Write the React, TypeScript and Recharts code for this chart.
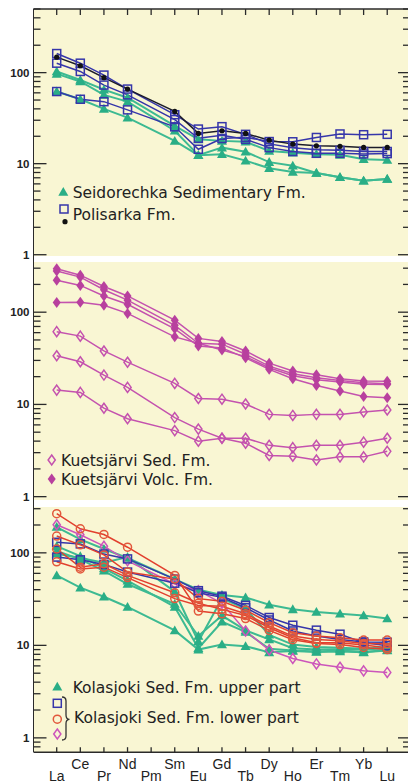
import React from "react";
import { Line, LineChart, XAxis, YAxis } from "recharts";

// chondrite-normalised REE
const ELEMENTS = ["La", "Ce", "Pr", "Nd", "Pm", "Sm", "Eu", "Gd", "Tb", "Dy", "Ho", "Er", "Tm", "Yb", "Lu"];
const X_TICKS = [0, 1, 2, 3, 4, 5, 6, 7, 8, 9, 10, 11, 12, 13, 14];
const Y_TICKS = [1, 2, 3, 4, 5, 6, 7, 8, 9, 10, 20, 30, 40, 50, 60, 70, 80, 90, 100, 200, 300, 400, 500];
const Y_TICKS_LOW = [0.8, 0.9];
const Y_LABELS = [1, 10, 100];

// panel 1
const SEIDORECHKA_A = [103, 83, 65, 53, null, 26, 18.5, 17.8, 17.4, 13.8, 13.2, 12.7, 12.5, 11.2, 11];
const SEIDORECHKA_B = [97, 80, 57, 48, null, 23, 12.4, 15, 13.5, 10.4, 9.5, 7.9, 7.1, 6.5, 6.8];
const SEIDORECHKA_C = [62, 51, 40, 32, null, 17.8, 12.4, 12.7, 10.8, 8.9, 8.1, 7.9, 7.1, 6.5, 6.8];
const POLISARKA_A = [162, 127, 94, 66, null, 34.5, 24, 25.5, 21, 16.5, 15, 14.2, 14, 13.6, 13.6];
const POLISARKA_B = [127, 103, 73, 57, null, 30.5, 19, 20.5, 18.5, 15, 13.6, 13, 13, 12.8, 12.9];
const POLISARKA_C = [62, 51, 48, 39, null, 25.4, 14.4, 18.9, 19.5, 17.5, 17.4, 19.4, 21.2, 20.8, 21];
const POLISARKA_BLACK = [148, 119, 88, 66, null, 37.5, 21.5, 23, 21.5, 18.1, 16.4, 15.7, 15.5, 15.1, 15.1];

// panel 2
const KUETS_VOLC_A = [295, 252, 190, 150, null, 82, 52, 48, 38, 28, 23, 21, 19, 18, 17.8];
const KUETS_VOLC_B = [280, 240, 175, 135, null, 72, 46, 45, 35, 26, 21.5, 19.5, 18.2, 17.2, 16.8];
const KUETS_VOLC_C = [222, 195, 150, 122, null, 66, 43, 41, 32, 24, 19, 16, 14, 12.2, 11.8];
const KUETS_VOLC_D = [127, 128, 119, 97, null, 54, 46, 39, 33, 25, 20.5, 18.5, 17.5, 16.5, 16.4];
const KUETS_SED_A = [61.5, 55, 38, 28.7, null, 16.9, 11.6, 11.4, 10.1, 7.8, 7.6, 7.8, 7.8, 8.3, 8.7];
const KUETS_SED_B = [33.7, 29, 20.8, 15.3, null, 7.2, 5.4, 4.3, 4.3, 3.6, 3.4, 3.6, 3.6, 3.9, 4.3];
const KUETS_SED_C = [14.3, 13.5, 9.1, 7.0, null, 5.2, 4.0, 4.3, 3.8, 2.8, 2.75, 2.5, 2.7, 2.7, 3.1];

// panel 3
const KOLA_UP_A = [57, 42, 33.5, 26, null, 14.5, 9, 10.2, 9.8, 8.4, 8.7, 8.5, 8.6, 8.4, 8.8];
const KOLA_UP_B = [190, 140, 110, 88, null, 52, 40, 35, 33, 27.5, 24.5, 23, 22, 21, 19.5];
const KOLA_UP_C = [118, 92, 68, 50, null, 26, 9.3, 18, 14, 9.2, 8.8, 8.6, 8.8, 8.5, 8.9];
const KOLA_UP_D = [105, 85, 64, 46, null, 28, 12.6, 21, 14.5, 11.6, 9.3, 9, 9.1, 9, 9.3];
const KOLA_UP_E = [98, 88, 78, 90, null, 38, 11, 32, 25, 13, 10.2, 9.6, 9.4, 9.2, 9.6];
const KOLA_LOW_SQ_A = [130, 125, 97, 86, null, 52, 39, 34, 27, 20, 16.5, 14.6, 13.2, 10.7, 9.9];
const KOLA_LOW_SQ_B = [90, 84, 75, 62, null, 47, 37, 33, 25.5, 18.8, 14.3, 12.6, 11.6, 10.9, 10.8];
const KOLA_LOW_CI_A = [265, 182, 158, 115, null, 57, 23.5, 22, 19.5, 14.5, 11.5, 10.5, 10.2, 9.5, 9];
const KOLA_LOW_CI_B = [152, 122, 95, 62, null, 52, 32, 30, 24, 17.6, 13.7, 12.6, 12.1, 11.4, 11.4];
const KOLA_LOW_CI_C = [110, 70, 76, 57, null, 37, 28.5, 24.5, 21, 15.5, 12.1, 10.7, 10.7, 10.1, 9.4];
const KOLA_LOW_CI_D = [80, 67, 70, 54, null, 32, 27, 26.5, 22, 16.2, 12.6, 11.6, 11.2, 10.5, 10.4];
const KOLA_LOW_DI = [201, 157, 118, 82, null, 46, 39, 28.5, 14.3, 8.9, 7.2, 6.3, 5.8, 5.3, 5.1];

const BG = "#f9f6d3";
const AXIS = "#2a2a2a";
const TEAL = "#2aae86";
const TEAL_LINE = "#3dba92";
const BLUE = "#3636aa";
const BLACK = "#111111";
const MAGENTA = "#b8409e";
const MAGENTA_LINE = "#c452ae";
const RED = "#e2583c";
const RED_LINE = "#e2402e";
const PINK = "#cc55bb";

const PLOT_LEFT = 33.5;
const PLOT_W = 374.5;
const X_DOMAIN = [-0.983, 14.88];

type Shape = "tri" | "sq" | "dot" | "dia" | "diaF" | "ci";

function Marker({ shape, cx, cy, color }: { shape: Shape; cx: number; cy: number; color: string }) {
  switch (shape) {
    case "tri":
      return <polygon points={`${cx},${cy - 5} ${cx - 5},${cy + 3.8} ${cx + 5},${cy + 3.8}`} fill={color} />;
    case "sq":
      return <rect x={cx - 4} y={cy - 4} width={8} height={8} fill="none" stroke={color} strokeWidth={1.5} />;
    case "dot":
      return <circle cx={cx} cy={cy} r={2.6} fill={color} />;
    case "dia":
      return <polygon points={`${cx},${cy - 5} ${cx + 3.6},${cy} ${cx},${cy + 5} ${cx - 3.6},${cy}`} fill="none" stroke={color} strokeWidth={1.5} />;
    case "diaF":
      return <polygon points={`${cx},${cy - 5.5} ${cx + 4},${cy} ${cx},${cy + 5.5} ${cx - 4},${cy}`} fill={color} />;
    default:
      return <circle cx={cx} cy={cy} r={4} fill="none" stroke={color} strokeWidth={1.5} />;
  }
}

interface Series {
  key: string;
  values: (number | null)[];
  shape: Shape;
  color: string;
  line: string;
  width: number;
}

function buildRows(series: Series[]) {
  return ELEMENTS.map((_, i) => {
    const row: Record<string, number | null> = { x: i };
    series.forEach((s) => (row[s.key] = s.values[i]));
    return row;
  });
}

function makeDot(shape: Shape, color: string) {
  return (p: any) => {
    if (p.cx == null || p.cy == null || p.value == null) return <g key={`e${p.index}`} />;
    return (
      <g key={`d${p.index}`}>
        <Marker shape={shape} cx={p.cx} cy={p.cy} color={color} />
      </g>
    );
  };
}

function YTick(props: any) {
  const { x, y, payload } = props;
  const v = payload.value;
  const major = Y_LABELS.includes(v);
  return (
    <g>
      <line x1={x} x2={x + (major ? 13 : 7)} y1={y} y2={y} stroke={AXIS} strokeWidth={1.3} />
      <line x1={x + PLOT_W - (major ? 10 : 5)} x2={x + PLOT_W} y1={y} y2={y} stroke={AXIS} strokeWidth={1.3} />
      {major && (
        <text x={x - 4} y={y + 4} textAnchor="end" fontSize={11.5} fontWeight="bold" fontFamily="'Liberation Sans', Arial, sans-serif" fill="#222">
          {v}
        </text>
      )}
    </g>
  );
}

function TopTick(props: any) {
  const { x, y } = props;
  return <line x1={x} x2={x} y1={y} y2={y + 6} stroke={AXIS} strokeWidth={1.3} />;
}

function BottomTick(props: any) {
  const { x, y, payload } = props;
  const i = payload.value as number;
  return (
    <g>
      <line x1={x} x2={x} y1={y} y2={y - 5} stroke={AXIS} strokeWidth={1.3} />
      <text x={x} y={y + (i % 2 === 0 ? 28.5 : 16.5)} textAnchor="middle" fontSize={14} fontFamily="'Liberation Sans', Arial, sans-serif" fill="#222">
        {ELEMENTS[i]}
      </text>
    </g>
  );
}

interface PanelProps {
  top: number;
  plotHeight: number;
  domain: [number, number];
  series: Series[];
  xMode: "top" | "none" | "bottom";
}

function Panel({ top, plotHeight, domain, series, xMode }: PanelProps) {
  const rows = buildRows(series);
  const xHeight = xMode === "top" ? 1 : xMode === "bottom" ? 30.3 : 0;
  // room under the plot so the "1" label is not clipped
  const padBottom = xMode === "bottom" ? 0 : 6;
  const chartTop = xMode === "top" ? top - 1 : top;
  const ticks = [...Y_TICKS_LOW, ...Y_TICKS].filter((t) => t >= domain[0] && t <= domain[1]);
  const h = plotHeight + xHeight + padBottom;
  return (
    <div style={{ position: "absolute", left: 0, top: chartTop, width: 408, height: h }}>
      <div style={{ position: "absolute", left: PLOT_LEFT, top: xMode === "top" ? 1 : 0, width: PLOT_W, height: plotHeight, background: BG }} />
      <LineChart
        width={408}
        height={h}
        data={rows}
        margin={{ top: 0, right: 0, bottom: padBottom, left: 0 }}
        style={{ position: "absolute", left: 0, top: 0 }}
      >
        <XAxis
          type="number"
          dataKey="x"
          domain={X_DOMAIN}
          allowDataOverflow
          ticks={X_TICKS}
          interval={0}
          hide={xMode === "none"}
          orientation={xMode === "top" ? "top" : "bottom"}
          height={xMode === "none" ? 0 : xHeight}
          axisLine={{ stroke: AXIS, strokeWidth: 1.5 }}
          tickLine={false}
          tickSize={0}
          tickMargin={0}
          tick={xMode === "top" ? <TopTick /> : <BottomTick />}
        />
        <YAxis
          type="number"
          scale="log"
          domain={domain}
          allowDataOverflow
          ticks={ticks}
          interval={0}
          width={PLOT_LEFT}
          axisLine={false}
          tickLine={false}
          tickSize={0}
          tickMargin={0}
          tick={<YTick />}
        />
        {series.map((s) => (
          <Line
            key={s.key}
            dataKey={s.key}
            stroke={s.line}
            strokeWidth={s.width}
            connectNulls
            dot={makeDot(s.shape, s.color)}
            activeDot={false}
            isAnimationActive={false}
          />
        ))}
      </LineChart>
    </div>
  );
}

const tealSeries = (key: string, values: (number | null)[]): Series => ({ key, values, shape: "tri", color: TEAL, line: TEAL_LINE, width: 2 });

const PANEL1: Series[] = [
  tealSeries("sA", SEIDORECHKA_A),
  tealSeries("sB", SEIDORECHKA_B),
  tealSeries("sC", SEIDORECHKA_C),
  { key: "pC", values: POLISARKA_C, shape: "sq", color: BLUE, line: BLUE, width: 1.5 },
  { key: "pB", values: POLISARKA_B, shape: "sq", color: BLUE, line: BLUE, width: 1.5 },
  { key: "pA", values: POLISARKA_A, shape: "sq", color: BLUE, line: BLUE, width: 1.5 },
  { key: "pK", values: POLISARKA_BLACK, shape: "dot", color: BLACK, line: "#1c1c2a", width: 1.5 },
];

const PANEL2: Series[] = [
  { key: "kSA", values: KUETS_SED_A, shape: "dia", color: MAGENTA_LINE, line: MAGENTA_LINE, width: 1.5 },
  { key: "kSB", values: KUETS_SED_B, shape: "dia", color: MAGENTA_LINE, line: MAGENTA_LINE, width: 1.5 },
  { key: "kSC", values: KUETS_SED_C, shape: "dia", color: MAGENTA_LINE, line: MAGENTA_LINE, width: 1.5 },
  { key: "kVD", values: KUETS_VOLC_D, shape: "diaF", color: MAGENTA, line: MAGENTA_LINE, width: 1.5 },
  { key: "kVC", values: KUETS_VOLC_C, shape: "diaF", color: MAGENTA, line: MAGENTA_LINE, width: 1.5 },
  { key: "kVB", values: KUETS_VOLC_B, shape: "diaF", color: MAGENTA, line: MAGENTA_LINE, width: 1.5 },
  { key: "kVA", values: KUETS_VOLC_A, shape: "diaF", color: MAGENTA, line: MAGENTA_LINE, width: 1.5 },
];

const PANEL3: Series[] = [
  tealSeries("uA", KOLA_UP_A),
  tealSeries("uB", KOLA_UP_B),
  tealSeries("uC", KOLA_UP_C),
  tealSeries("uD", KOLA_UP_D),
  tealSeries("uE", KOLA_UP_E),
  { key: "lD", values: KOLA_LOW_DI, shape: "dia", color: PINK, line: PINK, width: 1.5 },
  { key: "lQA", values: KOLA_LOW_SQ_A, shape: "sq", color: BLUE, line: BLUE, width: 1.5 },
  { key: "lQB", values: KOLA_LOW_SQ_B, shape: "sq", color: BLUE, line: BLUE, width: 1.5 },
  { key: "lCA", values: KOLA_LOW_CI_A, shape: "ci", color: RED, line: RED_LINE, width: 1.5 },
  { key: "lCB", values: KOLA_LOW_CI_B, shape: "ci", color: RED, line: RED_LINE, width: 1.5 },
  { key: "lCC", values: KOLA_LOW_CI_C, shape: "ci", color: RED, line: RED_LINE, width: 1.5 },
  { key: "lCD", values: KOLA_LOW_CI_D, shape: "ci", color: RED, line: RED_LINE, width: 1.5 },
];

const LEGEND_FONT = "'DejaVu Sans', Verdana, sans-serif";

function Legends() {
  const t = { fontSize: 15.5, fontFamily: LEGEND_FONT, fill: "#222" } as const;
  return (
    <svg width={408} height={782} style={{ position: "absolute", left: 0, top: 0, pointerEvents: "none" }}>
      <Marker shape="tri" cx={63.3} cy={192} color={TEAL} />
      <text x={72.7} y={197.5} {...t}>Seidorechka Sedimentary Fm.</text>
      <Marker shape="sq" cx={64} cy={209} color={BLUE} />
      <Marker shape="dot" cx={65} cy={221.7} color={BLACK} />
      <text x={72.7} y={219.5} {...t}>Polisarka Fm.</text>

      <Marker shape="dia" cx={51.7} cy={460} color={MAGENTA_LINE} />
      <text x={61} y={466} {...t}>Kuetsjärvi Sed. Fm.</text>
      <Marker shape="diaF" cx={51.7} cy={479} color={MAGENTA} />
      <text x={61} y={485} {...t}>Kuetsjärvi Volc. Fm.</text>

      <Marker shape="tri" cx={57.3} cy={686.7} color={TEAL} />
      <text x={72.7} y={692.5} {...t}>Kolasjoki Sed. Fm. upper part</text>
      <Marker shape="sq" cx={57.3} cy={703.3} color={BLUE} />
      <Marker shape="ci" cx={57.3} cy={719.2} color={RED} />
      <Marker shape="dia" cx={57.3} cy={734} color={PINK} />
      <path d="M62 697 Q66 697 66 701 L66 715 Q66 719.3 69.5 719.3 Q66 719.3 66 723.5 L66 736 Q66 740 62 740" fill="none" stroke="#333" strokeWidth={1.3} />
      <text x={74} y={723.3} {...t}>Kolasjoki Sed. Fm. lower part</text>
    </svg>
  );
}

export default function App() {
  return (
    <div style={{ position: "absolute", left: 0, top: 0, width: 408, height: 782, background: "#ffffff", overflow: "hidden" }}>
      <Panel top={9} plotHeight={247} domain={[0.968, 500]} series={PANEL1} xMode="top" />
      <Panel top={262} plotHeight={238} domain={[0.92, 350]} series={PANEL2} xMode="none" />
      <Panel top={506.5} plotHeight={245.2} domain={[0.7, 313]} series={PANEL3} xMode="bottom" />
      <div style={{ position: "absolute", left: PLOT_LEFT - 0.75, top: 8.5, width: 1.5, height: 743.5, background: AXIS }} />
      <Legends />
    </div>
  );
}
